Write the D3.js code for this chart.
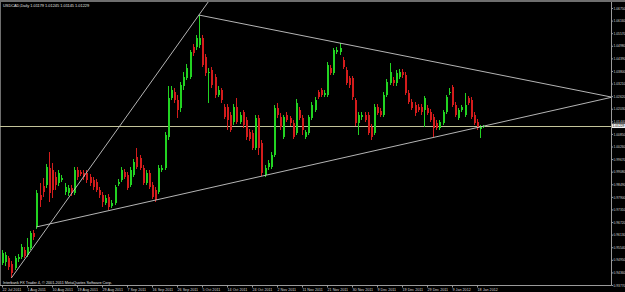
<!DOCTYPE html>
<html><head><meta charset="utf-8">
<script src="https://cdn.jsdelivr.net/npm/d3@7"></script>
<style>html,body{margin:0;padding:0;background:#000;overflow:hidden}</style>
</head><body><svg id="c" width="625" height="292"></svg>
<script>
const symbolTitle = "USDCAD,Daily";
const lastBarText = "1.01179 1.01245 1.01145 1.01229";
const creditText = "Interbank FX Trader 4, \u00a9 2001-2011 MetaQuotes Software Corp.";
const opens = [0.9480,0.9485,0.9504,0.9476,0.9457,0.9499,0.9508,0.9541,0.9518,0.9550,0.9621,0.9649,0.9799,0.9841,0.9846,0.9925,0.9916,0.9883,0.9855,0.9869,
0.9813,0.9808,0.9832,0.9808,0.9916,0.9907,0.9902,0.9902,0.9883,0.9869,0.9860,0.9822,0.9799,0.9761,0.9789,0.9747,0.9761,0.9850,0.9869,0.9907,
0.9893,0.9846,0.9893,0.9977,0.9972,0.9925,0.9855,0.9902,0.9846,0.9822,0.9813,0.9916,0.9925,1.0071,1.0253,1.0281,1.0244,1.0206,1.0310,1.0347,
1.0352,1.0492,1.0492,1.0502,1.0534,1.0445,1.0370,1.0385,1.0352,1.0267,1.0291,1.0211,1.0211,1.0174,1.0141,1.0211,1.0141,1.0188,1.0150,1.0094,
1.0089,1.0019,1.0160,1.0042,0.9893,0.9930,0.9930,0.9986,1.0206,1.0164,1.0071,1.0174,1.0160,1.0136,1.0089,1.0197,1.0160,1.0071,1.0089,1.0160,
1.0197,1.0281,1.0291,1.0267,1.0267,1.0394,1.0370,1.0469,1.0469,1.0431,1.0385,1.0347,1.0347,1.0244,1.0136,1.0164,1.0174,1.0174,1.0117,1.0089,
1.0211,1.0192,1.0174,1.0267,1.0324,1.0338,1.0324,1.0352,1.0375,1.0361,1.0277,1.0235,1.0220,1.0211,1.0211,1.0197,1.0206,1.0188,1.0164,1.0136,
1.0113,1.0136,1.0188,1.0277,1.0305,1.0220,1.0160,1.0197,1.0174,1.0253,1.0244,1.0174,1.0141,1.0108,1.01179];
const highs = [0.9541,0.9532,0.9513,0.9490,0.9513,0.9522,0.9569,0.9555,0.9597,0.9630,0.9635,0.9822,0.9855,0.9878,0.9944,1.0000,0.9949,0.9907,0.9916,0.9893,
0.9855,0.9846,0.9846,0.9930,0.9930,0.9916,0.9916,0.9916,0.9897,0.9883,0.9874,0.9836,0.9813,0.9799,0.9803,0.9775,0.9846,0.9874,0.9930,0.9921,
0.9907,0.9930,0.9967,1.0019,0.9986,0.9939,0.9916,0.9916,0.9860,0.9836,0.9939,0.9939,1.0094,1.0310,1.0310,1.0300,1.0267,1.0328,1.0375,1.0413,
1.0478,1.0506,1.0549,1.0642,1.0549,1.0459,1.0394,1.0399,1.0366,1.0310,1.0300,1.0225,1.0225,1.0188,1.0225,1.0253,1.0188,1.0197,1.0164,1.0108,
1.0103,1.0174,1.0174,1.0057,0.9939,0.9963,1.0000,1.0220,1.0230,1.0183,1.0174,1.0188,1.0169,1.0150,1.0249,1.0211,1.0174,1.0103,1.0174,1.0235,
1.0258,1.0291,1.0300,1.0291,1.0422,1.0408,1.0488,1.0492,1.0511,1.0445,1.0399,1.0356,1.0356,1.0253,1.0188,1.0188,1.0188,1.0188,1.0131,1.0225,
1.0225,1.0206,1.0281,1.0342,1.0417,1.0352,1.0385,1.0389,1.0389,1.0375,1.0291,1.0249,1.0235,1.0225,1.0225,1.0263,1.0220,1.0202,1.0178,1.0150,
1.0150,1.0197,1.0267,1.0300,1.0314,1.0235,1.0206,1.0220,1.0277,1.0263,1.0258,1.0188,1.0155,1.0127,1.01245];
const lows = [0.9471,0.9466,0.9447,0.9410,0.9447,0.9485,0.9499,0.9504,0.9508,0.9541,0.9588,0.9639,0.9743,0.9789,0.9832,0.9766,0.9785,0.9822,0.9841,0.9860,
0.9799,0.9794,0.9794,0.9799,0.9869,0.9888,0.9869,0.9855,0.9841,0.9822,0.9813,0.9785,0.9743,0.9752,0.9729,0.9738,0.9752,0.9841,0.9860,0.9874,
0.9822,0.9836,0.9883,0.9921,0.9916,0.9846,0.9846,0.9827,0.9780,0.9766,0.9803,0.9907,0.9916,1.0057,1.0244,1.0230,1.0160,1.0188,1.0291,1.0338,
1.0342,1.0450,1.0478,1.0488,1.0399,1.0356,1.0230,1.0300,1.0253,1.0258,1.0230,1.0155,1.0103,1.0094,1.0127,1.0131,1.0131,1.0113,1.0057,1.0052,
1.0010,1.0010,0.9986,0.9888,0.9883,0.9916,0.9921,0.9977,1.0160,1.0103,1.0061,1.0141,1.0122,1.0061,1.0080,1.0150,1.0080,1.0061,1.0080,1.0150,
1.0188,1.0249,1.0258,1.0258,1.0258,1.0361,1.0361,1.0459,1.0455,1.0389,1.0314,1.0300,1.0244,1.0122,1.0080,1.0150,1.0141,1.0080,1.0057,1.0080,
1.0174,1.0164,1.0164,1.0258,1.0314,1.0310,1.0310,1.0342,1.0347,1.0267,1.0225,1.0197,1.0169,1.0188,1.0174,1.0117,1.0174,1.0141,1.0071,1.0103,
1.0103,1.0127,1.0178,1.0267,1.0211,1.0164,1.0150,1.0188,1.0164,1.0220,1.0155,1.0127,1.0103,1.0066,1.01145];
const closes = [0.9527,0.9518,0.9461,0.9433,0.9504,0.9508,0.9555,0.9513,0.9555,0.9621,0.9602,0.9808,0.9775,0.9813,0.9930,0.9808,0.9822,0.9846,0.9902,0.9878,
0.9836,0.9832,0.9808,0.9916,0.9883,0.9897,0.9883,0.9869,0.9855,0.9836,0.9822,0.9799,0.9766,0.9785,0.9743,0.9761,0.9836,0.9860,0.9916,0.9883,
0.9832,0.9916,0.9953,0.9930,0.9925,0.9855,0.9902,0.9836,0.9789,0.9775,0.9925,0.9925,1.0080,1.0253,1.0291,1.0244,1.0197,1.0314,1.0352,1.0394,
1.0469,1.0464,1.0534,1.0534,1.0408,1.0370,1.0375,1.0314,1.0267,1.0291,1.0244,1.0164,1.0150,1.0103,1.0211,1.0141,1.0174,1.0127,1.0071,1.0061,
1.0019,1.0160,1.0019,0.9902,0.9925,0.9949,0.9986,1.0206,1.0174,1.0117,1.0164,1.0150,1.0136,1.0071,1.0230,1.0160,1.0103,1.0094,1.0164,1.0220,
1.0244,1.0258,1.0267,1.0277,1.0408,1.0370,1.0478,1.0478,1.0488,1.0399,1.0324,1.0314,1.0258,1.0136,1.0174,1.0174,1.0150,1.0089,1.0071,1.0211,
1.0183,1.0174,1.0267,1.0328,1.0375,1.0324,1.0370,1.0375,1.0361,1.0277,1.0235,1.0206,1.0183,1.0197,1.0188,1.0253,1.0183,1.0150,1.0113,1.0113,
1.0141,1.0188,1.0258,1.0281,1.0220,1.0174,1.0197,1.0211,1.0220,1.0230,1.0164,1.0136,1.0113,1.0117,1.01229];
const dateTickLabels = ["22 Jul 2011","1 Aug 2011","10 Aug 2011","19 Aug 2011","29 Aug 2011","7 Sep 2011","16 Sep 2011","26 Sep 2011","5 Oct 2011","14 Oct 2011",
"24 Oct 2011","2 Nov 2011","11 Nov 2011","21 Nov 2011","30 Nov 2011","9 Dec 2011","19 Dec 2011","29 Dec 2011","9 Jan 2012","18 Jan 2012"];
const priceTickLabels = ["0.93770","0.94360","0.94950","0.95540","0.96130","0.96720","0.97310","0.97900","0.98490","0.99080","0.99670","1.00260",
"1.00850","1.01440","1.02030","1.02620","1.03210","1.03800","1.04390","1.04980","1.05570","1.06160","1.06750"];
const bidPrice = 1.01229;
// trend lines: [barIndex, price] anchors, drawn as rays
const trendLines = [
  {a:[3, 0.9410], b:[63, 1.0642]},
  {a:[63, 1.0642], b:[108, 1.0511]},
  {a:[11, 0.9649], b:[84, 0.9890]}
];

const W = 625, H = 292, plotRight = 611, plotTop = 2, plotBottom = 285;
const svg = d3.select("#c");
svg.append("rect").attr("width", W).attr("height", H).attr("fill", "#000");
const font = "'Liberation Sans', Arial, sans-serif";

const x = d3.scaleLinear().domain([0, 152]).range([2, 477]);
const y = d3.scaleLinear().domain([0.9377, 1.07125]).range([285, 0]);

// frame
svg.append("rect").attr("x", 0).attr("y", 0).attr("width", W).attr("height", 2).attr("fill", "#6e6e6e");
svg.append("rect").attr("x", 0).attr("y", 0).attr("width", 1).attr("height", plotBottom).attr("fill", "#6e6e6e");

svg.append("defs").append("clipPath").attr("id", "plot")
  .append("rect").attr("x", 0).attr("y", plotTop).attr("width", plotRight).attr("height", plotBottom - plotTop);
const plot = svg.append("g").attr("clip-path", "url(#plot)");

// bid line
plot.append("line").attr("x1", 0).attr("x2", plotRight)
  .attr("y1", Math.round(y(bidPrice)) + 0.5).attr("y2", Math.round(y(bidPrice)) + 0.5)
  .attr("stroke", "#c4c49a").attr("stroke-width", 1);

// candles
const bars = d3.range(opens.length).map(i => ({i, o: opens[i], h: highs[i], l: lows[i], c: closes[i]}));
const bull = "#22d322", bear = "#d41c1c";
const cg = plot.append("g").attr("shape-rendering", "crispEdges");
const g = cg.selectAll("g").data(bars).join("g");
g.append("rect")
  .attr("x", d => Math.round(x(d.i)))
  .attr("y", d => Math.round(y(d.h)))
  .attr("width", 1)
  .attr("height", d => Math.max(1, Math.round(y(d.l)) - Math.round(y(d.h))))
  .attr("fill", d => d.c >= d.o ? bull : bear);
g.append("rect")
  .attr("x", d => Math.round(x(d.i)) - 0.5)
  .attr("y", d => Math.round(y(Math.max(d.o, d.c))))
  .attr("width", 2)
  .attr("height", d => Math.max(1, Math.round(y(Math.min(d.o, d.c))) - Math.round(y(Math.max(d.o, d.c)))))
  .attr("fill", d => d.c >= d.o ? bull : bear);

// trend lines (rays)
trendLines.forEach(t => {
  const x1 = x(t.a[0]), y1 = y(t.a[1]), x2 = x(t.b[0]), y2 = y(t.b[1]);
  const k = 50;
  plot.append("line").attr("x1", x1).attr("y1", y1)
    .attr("x2", x1 + (x2 - x1) * k).attr("y2", y1 + (y2 - y1) * k)
    .attr("stroke", "#c8c8c8").attr("stroke-width", 0.9);
});

// price axis
const yAxis = d3.axisRight(y).tickValues(priceTickLabels.map(Number))
  .tickFormat((d, i) => priceTickLabels[i]).tickSize(1.5).tickSizeOuter(0).tickPadding(0.5);
const gy = svg.append("g").attr("transform", `translate(${plotRight + 0.5},0)`).call(yAxis);
gy.select(".domain").remove();
gy.selectAll(".tick line").attr("stroke", "#9a9a9a");
gy.selectAll(".tick text").attr("fill", "#d4d4d4").attr("font-size", 3.3).attr("font-family", font).attr("dy", "0.35em");
svg.append("line").attr("x1", plotRight + 0.5).attr("x2", plotRight + 0.5).attr("y1", plotTop).attr("y2", plotBottom + 0.5)
  .attr("stroke", "#9a9a9a");

// time axis
const xAxis = d3.axisBottom(x).tickValues(dateTickLabels.map((d, i) => i * 8))
  .tickFormat((d, i) => dateTickLabels[i]).tickSize(2).tickSizeOuter(0);
const gx = svg.append("g").attr("transform", `translate(0,${plotBottom + 0.5})`).call(xAxis);
gx.select(".domain").remove();
gx.selectAll(".tick line").attr("stroke", "#9a9a9a");
gx.selectAll(".tick text").attr("fill", "#d4d4d4").attr("font-size", 3.7).attr("font-family", font)
  .attr("text-anchor", "start").attr("x", 0).attr("y", 2).attr("dy", "0.85em");
svg.append("line").attr("x1", 0).attr("x2", plotRight + 0.5).attr("y1", plotBottom + 0.5).attr("y2", plotBottom + 0.5)
  .attr("stroke", "#9a9a9a");

// bid label
const by = y(bidPrice);
svg.append("rect").attr("x", plotRight + 1).attr("y", by - 2.2).attr("width", 14).attr("height", 4.4).attr("fill", "#f0f0f0");
svg.append("text").attr("x", plotRight + 1.5).attr("y", by).attr("dy", "0.35em").attr("font-size", 3.3)
  .attr("font-family", font).attr("fill", "#000").text(bidPrice.toFixed(5));

// texts
svg.append("text").attr("x", 3).attr("y", 7).attr("font-size", 3.9).attr("font-family", font).attr("fill", "#e0e0e0")
  .text(symbolTitle + "  " + lastBarText);
svg.append("text").attr("x", 3).attr("y", 283.5).attr("font-size", 3.8).attr("font-family", font).attr("fill", "#e0e0e0")
  .text(creditText);
</script></body></html>
